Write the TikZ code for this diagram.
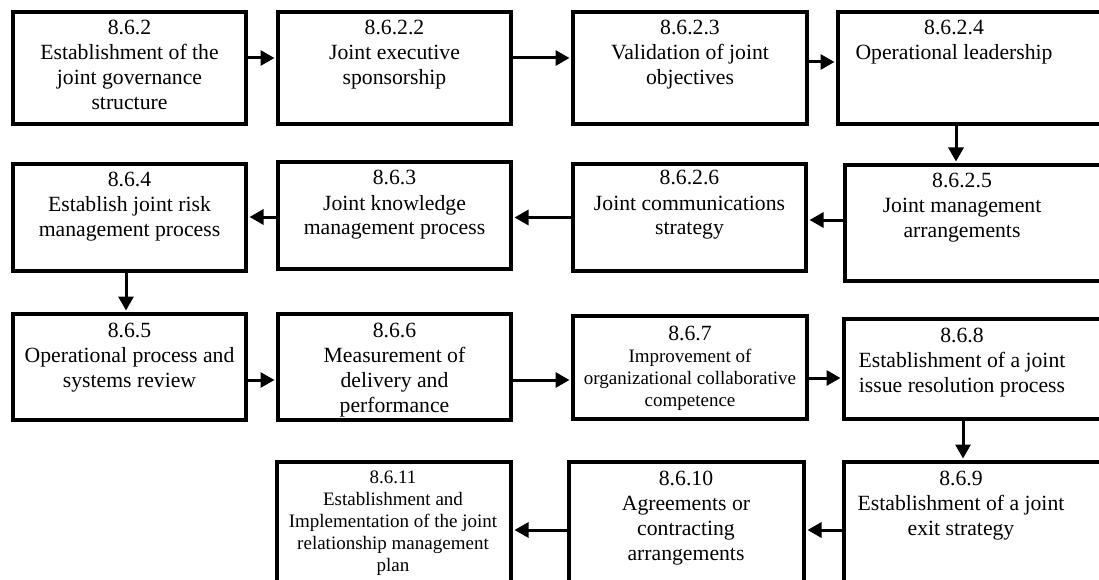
\documentclass[tikz,border=0pt]{standalone}
\usepackage{fontspec}
\setmainfont{Liberation Serif}
\usetikzlibrary{arrows.meta,calc}
\newcommand{\boxbigfont}{\fontsize{21.7pt}{25pt}\selectfont}
\newcommand{\boxsmallfont}{\fontsize{19pt}{22pt}\selectfont}
\begin{document}
\begin{tikzpicture}[x=1pt,y=-1pt,
 box/.style={draw=black,line width=4pt,inner sep=0pt},
 txt/.style={anchor=base,inner sep=0pt,font=\boxbigfont},
 stxt/.style={anchor=base,inner sep=0pt,font=\boxsmallfont},
 arr/.style={line width=3pt,-{Triangle[length=14pt,width=15pt]},shorten >=1.5pt}]
\useasboundingbox (0,0) rectangle (1099,580);
\clip (0,0) rectangle (1099,580);
% row 1
\node[box,minimum width=233pt,minimum height=112pt] (b1) at (129.5,68) {};
\node[box,minimum width=233pt,minimum height=112pt] (b2) at (394.5,68) {};
\node[box,minimum width=234pt,minimum height=112pt] (b3) at (690,68) {};
\node[box,minimum width=292pt,minimum height=112pt] (b4) at (984,68) {};
% row 2
\node[box,minimum width=285pt,minimum height=116pt] (b5) at (987.5,223) {};
\node[box,minimum width=233pt,minimum height=107pt] (b6) at (689.5,217.5) {};
\node[box,minimum width=233pt,minimum height=107pt] (b7) at (394.5,215.5) {};
\node[box,minimum width=233pt,minimum height=107pt] (b8) at (129.5,217.5) {};
% row 3
\node[box,minimum width=233pt,minimum height=106pt] (b9) at (129.5,367) {};
\node[box,minimum width=233pt,minimum height=106pt] (b10) at (394.5,367) {};
\node[box,minimum width=234pt,minimum height=103pt] (b11) at (690,367.5) {};
\node[box,minimum width=286pt,minimum height=100pt] (b12) at (987,369) {};
% row 4
\node[box,minimum width=286pt,minimum height=178pt] (b13) at (987,551) {};
\node[box,minimum width=235pt,minimum height=178pt] (b14) at (686.5,551) {};
\node[box,minimum width=234pt,minimum height=178pt] (b15) at (394,551) {};
% texts
\node[txt] (t1) at (129.5,35) {\parbox[t]{300pt}{\centering 8.6.2\\Establishment of the\\joint governance\\structure}};
\node[txt] (t2) at (394.5,35) {\parbox[t]{300pt}{\centering 8.6.2.2\\Joint executive\\sponsorship}};
\node[txt] (t3) at (690,35) {\parbox[t]{300pt}{\centering 8.6.2.3\\Validation of joint\\objectives}};
\node[txt] (t4) at (954,35) {\parbox[t]{300pt}{\centering 8.6.2.4\\Operational leadership}};
\node[txt] (t5) at (962,187) {\parbox[t]{300pt}{\centering 8.6.2.5\\Joint management\\arrangements}};
\node[txt] (t6) at (689.5,185) {\parbox[t]{300pt}{\centering 8.6.2.6\\Joint communications\\strategy}};
\node[txt] (t7) at (394.5,185) {\parbox[t]{300pt}{\centering 8.6.3\\Joint knowledge\\management process}};
\node[txt] (t8) at (129.5,186) {\parbox[t]{300pt}{\centering 8.6.4\\Establish joint risk\\management process}};
\node[txt] (t9) at (129.5,337) {\parbox[t]{300pt}{\centering 8.6.5\\Operational process and\\systems review}};
\node[txt] (t10) at (394.5,337) {\parbox[t]{300pt}{\centering 8.6.6\\Measurement of\\delivery and\\performance}};
\node[stxt] (t11) at (690,340) {\parbox[t]{300pt}{\centering {\boxbigfont 8.6.7}\\Improvement of\\organizational collaborative\\competence}};
\node[txt] (t12) at (962,342) {\parbox[t]{300pt}{\centering 8.6.8\\Establishment of a joint\\issue resolution process}};
\node[txt] (t13) at (961,485) {\parbox[t]{300pt}{\centering 8.6.9\\Establishment of a joint\\exit strategy}};
\node[txt] (t14) at (686,485) {\parbox[t]{300pt}{\centering 8.6.10\\Agreements or\\contracting\\arrangements}};
\node[stxt] (t15) at (393,483) {\parbox[t]{300pt}{\centering 8.6.11\\Establishment and\\Implementation of the joint\\relationship management\\plan}};
% arrows
\draw[arr] ([yshift=10pt]b1.east) -- ([yshift=10pt]b1.east -| b2.west);
\draw[arr] ([yshift=10pt]b2.east) -- ([yshift=10pt]b2.east -| b3.west);
\draw[arr] ([yshift=6pt]b3.east) -- ([yshift=6pt]b3.east -| b4.west);
\draw[arr] ([xshift=-28pt]b4.south) -- ([xshift=-28pt]b4.south |- b5.north);
\draw[arr] ([yshift=3pt]b5.west) -- ([yshift=3pt]b5.west -| b6.east);
\draw[arr] (b6.west) -- (b6.west -| b7.east);
\draw[arr] ([yshift=-1.5pt]b7.west) -- ([yshift=-1.5pt]b7.west -| b8.east);
\draw[arr] ([xshift=-3.5pt]b8.south) -- ([xshift=-3.5pt]b8.south |- b9.north);
\draw[arr] ([yshift=-13pt]b9.east) -- ([yshift=-13pt]b9.east -| b10.west);
\draw[arr] ([yshift=-13pt]b10.east) -- ([yshift=-13pt]b10.east -| b11.west);
\draw[arr] ([yshift=-10.5pt]b11.east) -- ([yshift=-10.5pt]b11.east -| b12.west);
\draw[arr] ([xshift=-24pt]b12.south) -- ([xshift=-24pt]b12.south |- b13.north);
\draw[arr] ([yshift=21pt]b13.west) -- ([yshift=21pt]b13.west -| b14.east);
\draw[arr] ([yshift=21pt]b14.west) -- ([yshift=21pt]b14.west -| b15.east);
\end{tikzpicture}
\end{document}
